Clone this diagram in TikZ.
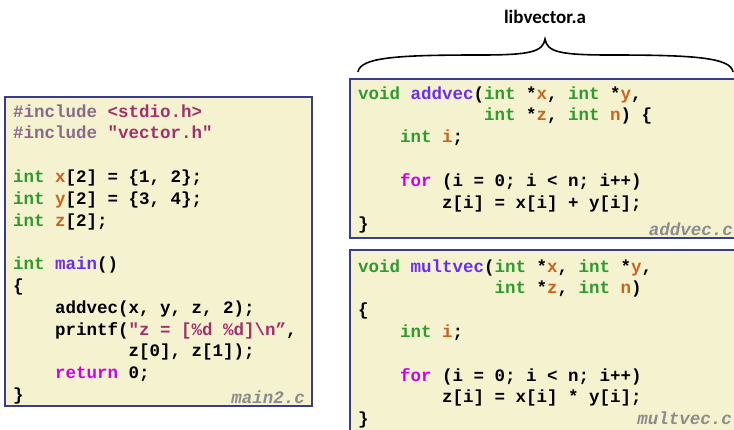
\documentclass[tikz,border=0pt]{standalone}
\usepackage{fontspec}
\setmainfont{Carlito}
\setmonofont{Liberation Mono}
\definecolor{boxfill}{HTML}{F5F3CF}
\definecolor{boxline}{HTML}{3C3C8C}
\definecolor{kwgreen}{HTML}{2F9A2F}
\definecolor{varorange}{HTML}{C8641E}
\definecolor{fnpurple}{HTML}{6A2EF0}
\definecolor{ctlmagenta}{HTML}{CC00EE}
\definecolor{strred}{HTML}{A0306E}
\definecolor{ppgray}{HTML}{8A6A8A}
\definecolor{filegray}{HTML}{8C8C8C}
\newcommand{\kw}[1]{\textcolor{kwgreen}{#1}}
\newcommand{\vn}[1]{\textcolor{varorange}{#1}}
\newcommand{\fname}[1]{\textcolor{fnpurple}{#1}}
\newcommand{\ctl}[1]{\textcolor{ctlmagenta}{#1}}
\newcommand{\strc}[1]{\textcolor{strred}{#1}}
\newcommand{\ppc}[1]{\textcolor{ppgray}{#1}}
\tikzset{
  codebox/.style={draw=boxline, line width=1.5pt, fill=boxfill},
  codeline/.style={anchor=base west, inner sep=0pt,
    font=\fontsize{17.5}{21.8}\selectfont\ttfamily\bfseries},
  filetag/.style={anchor=base east, inner sep=0pt, text=filegray,
    font=\fontsize{17.5}{21.8}\selectfont\ttfamily\bfseries\itshape},
}
\begin{document}
\begin{tikzpicture}[x=1pt, y=-1pt]
    \clip (0,0) rectangle (734,429);
    \def\cw{10.5}

    % boxes
    \draw[codebox] (5,97) rectangle (312,406);
    \draw[codebox] (350,79) rectangle (760,238);
    \draw[codebox] (350,250) rectangle (760,460);

    % main2.c
    \node[codeline] (main1)  at (13,117.0) {\ppc{\#include} \strc{<stdio.h>}};
    \node[codeline] (main2)  at (13,138.8) {\ppc{\#include} \strc{"vector.h"}};
    \node[codeline] (main4)  at (13,182.4) {\kw{int} \vn{x}[2] = \{1, 2\};};
    \node[codeline] (main5)  at (13,204.2) {\kw{int} \vn{y}[2] = \{3, 4\};};
    \node[codeline] (main6)  at (13,226.0) {\kw{int} \vn{z}[2];};
    \node[codeline] (main8)  at (13,269.6) {\kw{int} \fname{main}()};
    \node[codeline] (main9)  at (13,291.4) {\{};
    \node[codeline] (main10) at (13+4*\cw,313.2) {addvec(x, y, z, 2);};
    \node[codeline] (main11) at (13+4*\cw,335.0) {printf(\strc{"z = [\%d \%d]\textbackslash n”}, };
    \node[codeline] (main12) at (13+11*\cw,356.8) {z[0], z[1]);};
    \node[codeline] (main13) at (13+4*\cw,378.6) {\ctl{return} 0;};
    \node[codeline] (main14) at (13,400.4) {\}};
    \node[filetag] (mainfile) at (305,403) {main2.c};

    % addvec.c
    \node[codeline] (add1) at (358,99.0) {\kw{void} \fname{addvec}(\kw{int} *\vn{x}, \kw{int} *\vn{y},};
    \node[codeline] (add2) at (358+12*\cw,120.8) {\kw{int} *\vn{z}, \kw{int} \vn{n}) \{};
    \node[codeline] (add3) at (358+4*\cw,142.6) {\kw{int} \vn{i};};
    \node[codeline] (add5) at (358+4*\cw,186.2) {\ctl{for} (i = 0; i < n; i++)};
    \node[codeline] (add6) at (358+8*\cw,208.0) {z[i] = x[i] + y[i];};
    \node[codeline] (add7) at (358,229.8) {\}};
    \node[filetag] (addfile) at (733,235) {addvec.c};

    % multvec.c
    \node[codeline] (mul1) at (358,272.0) {\kw{void} \fname{multvec}(\kw{int} *\vn{x}, \kw{int} *\vn{y},};
    \node[codeline] (mul2) at (358+13*\cw,293.8) {\kw{int} *\vn{z}, \kw{int} \vn{n})};
    \node[codeline] (mul3) at (358,315.6) {\{};
    \node[codeline] (mul4) at (358+4*\cw,337.4) {\kw{int} \vn{i};};
    \node[codeline] (mul6) at (358+4*\cw,381.0) {\ctl{for} (i = 0; i < n; i++)};
    \node[codeline] (mul7) at (358+8*\cw,402.8) {z[i] = x[i] * y[i];};
    \node[codeline] (mul8) at (358,424.6) {\}};
    \node[filetag] (mulfile) at (732,424.5) {multvec.c};

    % brace over the library
    \coordinate (braceL)   at (358,72);
    \coordinate (braceR)   at (733,72);
    \coordinate (braceTip) at (545,39);
    \draw[line width=1.6pt]
        (braceL) .. controls (360,57) and (400,55) .. (480,55)
        .. controls (530,55) and (543,52) .. (braceTip)
        .. controls (547,52) and (560,55) .. (610,55)
        .. controls (690,55) and (731,57) .. (braceR);
    \node[font=\fontsize{19}{22}\selectfont\bfseries] (libname) at (545,17) {libvector.a};
\end{tikzpicture}
\end{document}
